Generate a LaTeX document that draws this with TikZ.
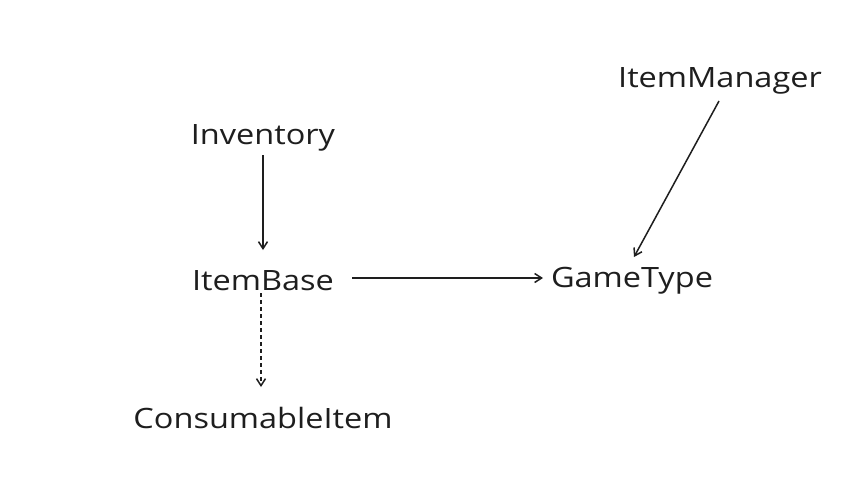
\documentclass[tikz,border=0pt]{standalone}
\usepackage{fontspec}
\setmainfont{Open Sans}[FakeStretch=1.16]
\usetikzlibrary{arrows.meta}
\definecolor{ink}{HTML}{1E1E1E}
\begin{document}
\begin{tikzpicture}[x=1pt,y=-1pt,
  lbl/.style={text=ink,font=\fontsize{28}{32}\selectfont,inner sep=0pt,anchor=center},
  conn/.style={draw=ink,line width=1.5pt,-{Straight Barb[length=7pt,width=9pt]}},
  dsh/.style={conn,dash pattern=on 4pt off 3pt}]
\fill[white] (0,0) rectangle (862,485);
\useasboundingbox (0,0) rectangle (862,485);
\node[lbl] (inv) at (263,138) {Inventory};
\node[lbl] (base) at (263,281) {ItemBase};
\node[lbl] (cons) at (263,418) {ConsumableItem};
\node[lbl] (game) at (632,281) {GameType};
\node[lbl] (mgr) at (720,81) {ItemManager};
\coordinate (invS) at (263,155);
\coordinate (baseN) at (263,250);
\coordinate (baseS) at (261,293);
\coordinate (consN) at (261,387);
\coordinate (baseE) at (352,278);
\coordinate (gameW) at (543,278);
\coordinate (mgrS) at (719,101);
\coordinate (gameN) at (634,257);
\draw[conn] (invS) -- (baseN);
\draw[dsh] (baseS) -- (consN);
\draw[conn] (baseE) -- (gameW);
\draw[conn] (mgrS) -- (gameN);
\end{tikzpicture}
\end{document}
